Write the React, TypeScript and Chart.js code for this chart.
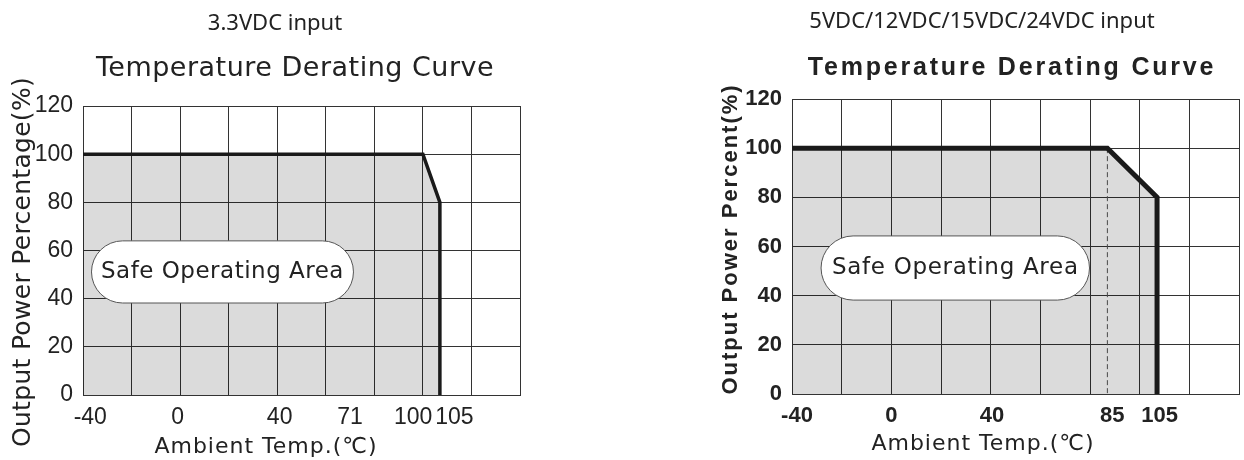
import React, { useEffect, useRef } from "react";
import { Chart, registerables } from "chart.js";

Chart.register(...registerables);

// ---------- data ----------
const tempMin = -40;
const tempMax = 140;
const tempStep = 20;
const powerMin = 0;
const powerMax = 120;
const powerStep = 20;

// 3.3VDC input
const leftCurveTemp = [-40, 100, 107, 107];
const leftCurvePower = [100, 100, 80, 0];
const leftTickLabels = ["-40", "0", "40", "71", "100", "105"];
const leftTickAt = [-37, -1, 41, 70, 96, 113];

// 5/12/15/24VDC input
const rightCurveTemp = [-40, 87, 107, 107];
const rightCurvePower = [100, 100, 80, 0];
const rightKneeTemp = [87, 87];
const rightKneePower = [100, 0];
const rightTickLabels = ["-40", "0", "40", "85", "105"];
const rightTickAt = [-38, 0, 40.5, 89, 108];

const headers = ["3.3VDC input", "5VDC/12VDC/15VDC/24VDC input"];
const chartTitle = "Temperature Derating Curve";
const yTitles = ["Output Power Percentage(%)", "Output Power Percent(%)"];
const xTitle = "Ambient Temp.(\u2103)";
const areaLabel = "Safe Operating Area";

type TextSpec = {
  text: string;
  x: number;
  y: number;
  font: string;
  spacing: number;
  rotate?: boolean;
  baseline?: CanvasTextBaseline;
};

type Spec = {
  left: number;
  width: number;
  padding: { left: number; right: number; top: number; bottom: number };
  yWidth: number;
  xHeight: number;
  curveTemp: number[];
  curvePower: number[];
  lineWidth: number;
  knee?: { t: number[]; p: number[] };
  tickLabels: string[];
  tickAt: number[];
  tickFont: string;
  tickBaseline: number;
  yTickFont: { family: string; size: number; weight: any };
  texts: TextSpec[];
  box: { t: number[]; p: number[]; font: string; spacing: number };
};

function drawText(ctx: CanvasRenderingContext2D, t: TextSpec) {
  ctx.save();
  ctx.font = t.font;
  (ctx as any).letterSpacing = t.spacing + "px";
  ctx.fillStyle = "#222";
  ctx.textAlign = "center";
  ctx.textBaseline = t.baseline || "alphabetic";
  if (t.rotate) {
    ctx.translate(t.x, t.y);
    ctx.rotate(-Math.PI / 2);
    ctx.fillText(t.text, 0, 0);
  } else {
    ctx.fillText(t.text, t.x, t.y);
  }
  ctx.restore();
}

function DeratingChart({ spec }: { spec: Spec }) {
  const ref = useRef<HTMLCanvasElement | null>(null);
  useEffect(() => {
    if (!ref.current) return;
    const datasets: any[] = [
      {
        data: spec.curveTemp.map((t, i) => ({ x: t, y: spec.curvePower[i] })),
        borderColor: "#1a1a1a",
        borderWidth: spec.lineWidth,
        backgroundColor: "rgba(0,0,0,0.14)",
        fill: "origin",
        pointRadius: 0,
        tension: 0,
        borderJoinStyle: "miter",
        borderCapStyle: "butt",
        order: 1,
      },
    ];
    if (spec.knee) {
      datasets.push({
        data: spec.knee.t.map((t, i) => ({ x: t, y: spec.knee!.p[i] })),
        borderColor: "#555",
        borderWidth: 1,
        borderDash: [5, 3],
        fill: false,
        pointRadius: 0,
        order: 2,
      });
    }
    const decor = {
      id: "decor",
      afterDraw(chart: any) {
        const ctx: CanvasRenderingContext2D = chart.ctx;
        const xs = chart.scales.x;
        const ys = chart.scales.y;
        const bx0 = xs.getPixelForValue(spec.box.t[0]);
        const bx1 = xs.getPixelForValue(spec.box.t[1]);
        const by0 = ys.getPixelForValue(spec.box.p[1]);
        const by1 = ys.getPixelForValue(spec.box.p[0]);
        const h = by1 - by0;
        ctx.save();
        ctx.beginPath();
        (ctx as any).roundRect(bx0, by0, bx1 - bx0, h, h / 2);
        ctx.fillStyle = "#ffffff";
        ctx.fill();
        ctx.strokeStyle = "#555";
        ctx.lineWidth = 1;
        ctx.stroke();
        ctx.restore();
        drawText(ctx, {
          text: areaLabel,
          x: (bx0 + bx1) / 2,
          y: (by0 + by1) / 2,
          font: spec.box.font,
          spacing: spec.box.spacing,
          baseline: "middle",
        });
        spec.tickLabels.forEach((lab, i) => {
          drawText(ctx, {
            text: lab,
            x: xs.getPixelForValue(spec.tickAt[i]),
            y: spec.tickBaseline,
            font: spec.tickFont,
            spacing: 0,
          });
        });
        spec.texts.forEach((t) => drawText(ctx, t));
      },
    };
    const chart = new Chart(ref.current, {
      type: "line",
      data: { datasets },
      plugins: [decor],
      options: {
        animation: false,
        responsive: false,
        maintainAspectRatio: false,
        events: [],
        layout: { padding: spec.padding },
        plugins: { legend: { display: false }, tooltip: { enabled: false }, title: { display: false } },
        scales: {
          x: {
            type: "linear",
            min: tempMin,
            max: tempMax,
            ticks: { stepSize: tempStep, display: false },
            grid: { color: "#333", lineWidth: 1, drawTicks: false },
            border: { color: "#333", width: 1 },
            afterFit: (s: any) => {
              s.height = spec.xHeight;
            },
          },
          y: {
            type: "linear",
            min: powerMin,
            max: powerMax,
            ticks: {
              stepSize: powerStep,
              color: "#222",
              padding: 10,
              font: spec.yTickFont,
            },
            grid: { color: "#333", lineWidth: 1, drawTicks: false },
            border: { color: "#333", width: 1 },
            afterFit: (s: any) => {
              s.width = spec.yWidth;
            },
          },
        },
      } as any,
    });
    return () => chart.destroy();
  }, [spec]);
  return (
    <canvas
      ref={ref}
      width={spec.width}
      height={460}
      style={{ position: "absolute", left: spec.left, top: 0, width: spec.width, height: 460 }}
    />
  );
}

const leftSpec: Spec = {
  left: 0,
  width: 560,
  padding: { left: 0, right: 40, top: 106, bottom: 0 },
  yWidth: 83,
  xHeight: 65,
  curveTemp: leftCurveTemp,
  curvePower: leftCurvePower,
  lineWidth: 3.5,
  tickLabels: leftTickLabels,
  tickAt: leftTickAt,
  tickFont: "23px 'Liberation Sans'",
  tickBaseline: 424,
  yTickFont: { family: "'Liberation Sans'", size: 23, weight: "normal" },
  texts: [
    { text: headers[0], x: 275, y: 30, font: "22px 'Noto Sans'", spacing: 0 },
    { text: chartTitle, x: 295, y: 76, font: "27px 'DejaVu Sans'", spacing: 0.5 },
    { text: yTitles[0], x: 23, y: 262, font: "25px 'DejaVu Sans'", spacing: 0.3, rotate: true, baseline: "middle" },
    { text: xTitle, x: 266, y: 453, font: "22px 'DejaVu Sans'", spacing: 1 },
  ],
  box: { t: [-36.5, 71.4], p: [38.2, 64], font: "23px 'DejaVu Sans'", spacing: 0.5 },
};

const RL = 620;
const rightSpec: Spec = {
  left: RL,
  width: 624,
  padding: { left: 0, right: 5, top: 99, bottom: 0 },
  yWidth: 172,
  xHeight: 66,
  curveTemp: rightCurveTemp,
  curvePower: rightCurvePower,
  lineWidth: 5,
  knee: { t: rightKneeTemp, p: rightKneePower },
  tickLabels: rightTickLabels,
  tickAt: rightTickAt,
  tickFont: "bold 22px 'Liberation Sans'",
  tickBaseline: 422,
  yTickFont: { family: "'Liberation Sans'", size: 22, weight: "bold" },
  texts: [
    { text: headers[1], x: 982 - RL, y: 28, font: "22px 'Noto Sans'", spacing: 0 },
    { text: chartTitle, x: 1012 - RL, y: 75, font: "bold 25px 'Liberation Sans'", spacing: 2.8 },
    { text: yTitles[1], x: 731 - RL, y: 239, font: "bold 22px 'Liberation Sans'", spacing: 2, rotate: true, baseline: "middle" },
    { text: xTitle, x: 983 - RL, y: 450, font: "22px 'DejaVu Sans'", spacing: 1 },
  ],
  box: { t: [-28.3, 79.8], p: [38.2, 64.3], font: "23px 'DejaVu Sans'", spacing: 0.7 },
};

export default function App() {
  return (
    <div style={{ position: "absolute", left: 0, top: 0, width: 1244, height: 460, background: "#fff" }}>
      <DeratingChart spec={leftSpec} />
      <DeratingChart spec={rightSpec} />
    </div>
  );
}
